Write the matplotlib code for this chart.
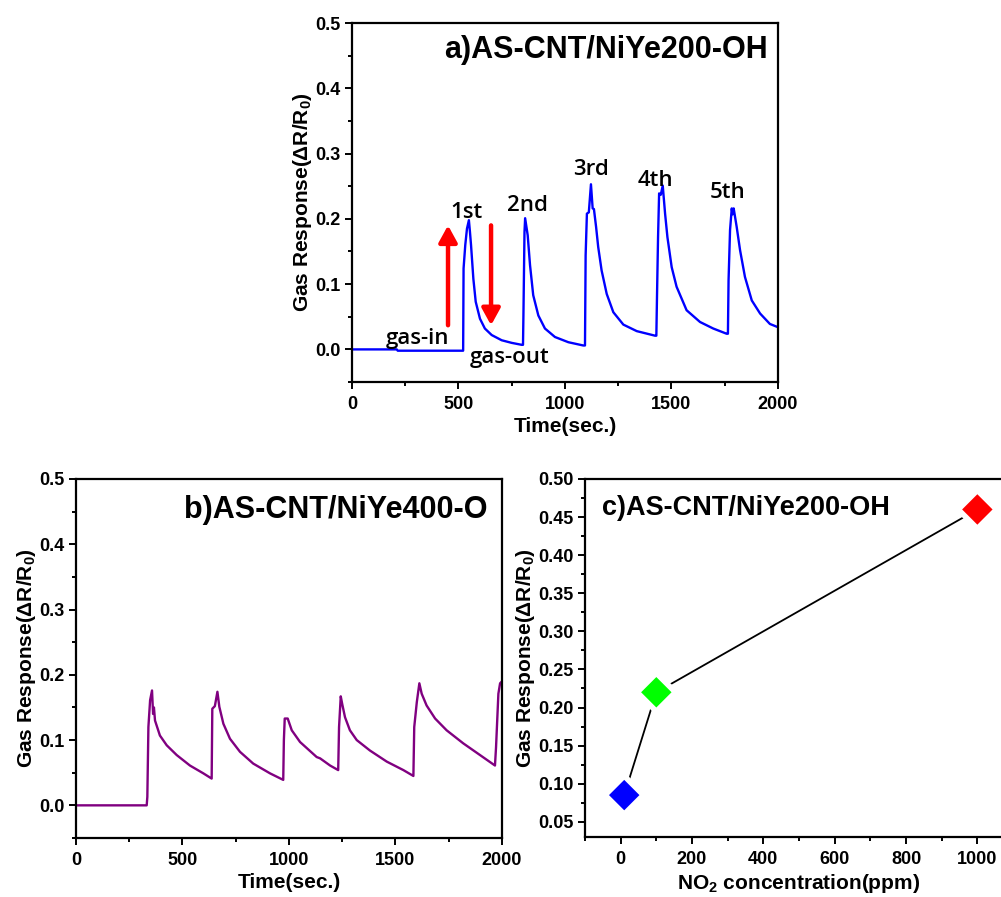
import matplotlib
matplotlib.use("Agg")
import matplotlib.pyplot as plt
from matplotlib.ticker import MultipleLocator

# panel a: AS-CNT/NiYe200-OH, five gas cycles
time_a = [0, 210, 215, 522, 524, 532, 540, 549, 554, 559, 570, 581, 601, 624, 656, 703,
          750, 797, 803, 805, 810, 813, 825, 836, 851, 875, 906, 953, 1016, 1086, 1094,
          1097, 1103, 1112, 1122, 1130, 1136, 1146, 1156, 1172, 1196, 1227, 1274, 1337,
          1423, 1429, 1432, 1437, 1442, 1450, 1459, 1470, 1481, 1501, 1524, 1571, 1634,
          1696, 1759, 1765, 1768, 1775, 1783, 1787, 1792, 1806, 1822, 1845, 1877, 1916,
          1962, 2000]
resp_a = [0.000, 0.000, -0.002, -0.002, 0.124, 0.160, 0.185, 0.198, 0.180, 0.160, 0.108,
          0.073, 0.047, 0.032, 0.022, 0.014, 0.010, 0.007, 0.007, 0.052, 0.180, 0.201,
          0.175, 0.129, 0.083, 0.052, 0.032, 0.019, 0.011, 0.006, 0.006, 0.144, 0.208,
          0.210, 0.253, 0.216, 0.215, 0.188, 0.157, 0.121, 0.085, 0.057, 0.038, 0.028,
          0.021, 0.021, 0.080, 0.172, 0.239, 0.237, 0.251, 0.208, 0.172, 0.126, 0.096,
          0.060, 0.042, 0.032, 0.024, 0.024, 0.106, 0.183, 0.216, 0.207, 0.216, 0.188,
          0.152, 0.111, 0.075, 0.055, 0.039, 0.034]

# panel b: AS-CNT/NiYe400-O
time_b = [0, 332, 335, 340, 348, 357, 362, 366, 371, 394, 426, 473, 535, 598, 637, 640,
          652, 664, 673, 692, 723, 770, 832, 911, 973, 976, 980, 994, 1013, 1052, 1130,
          1146, 1193, 1231, 1235, 1243, 1250, 1263, 1286, 1318, 1380, 1459, 1537, 1584,
          1588, 1600, 1612, 1623, 1646, 1686, 1740, 1818, 1897, 1967, 1972, 1983, 1991,
          2000]
resp_b = [0.000, 0.000, 0.013, 0.120, 0.161, 0.176, 0.140, 0.150, 0.130, 0.107, 0.092,
          0.077, 0.061, 0.049, 0.041, 0.148, 0.152, 0.174, 0.151, 0.125, 0.102, 0.082,
          0.064, 0.049, 0.039, 0.100, 0.133, 0.133, 0.115, 0.097, 0.074, 0.072, 0.061,
          0.054, 0.120, 0.167, 0.155, 0.135, 0.115, 0.100, 0.084, 0.067, 0.054, 0.045,
          0.120, 0.158, 0.187, 0.171, 0.153, 0.133, 0.115, 0.095, 0.077, 0.061, 0.089,
          0.171, 0.187, 0.190]

# panel c: response vs NO2 concentration
conc_c = [10, 100, 1000]
resp_c = [0.085, 0.22, 0.46]
colors_c = ["#0000ff", "#00ff00", "#ff0000"]

cycle_labels = ["1st", "2nd", "3rd", "4th", "5th"]
cycle_label_x = [540, 826, 1122, 1427, 1765]
cycle_label_y = [0.210, 0.221, 0.275, 0.259, 0.241]

plt.rcParams["font.family"] = "Liberation Sans"
plt.rcParams["font.weight"] = "bold"
plt.rcParams["axes.labelweight"] = "bold"
plt.rcParams["mathtext.fontset"] = "custom"
plt.rcParams["mathtext.rm"] = "Liberation Sans:bold"
plt.rcParams["mathtext.it"] = "Liberation Sans:bold"
plt.rcParams["mathtext.bf"] = "Liberation Sans:bold"

ylab = "Gas Response(ΔR/R$_0$)"

fig = plt.figure(figsize=(10.01, 8.97), dpi=100)
ax_a = fig.add_axes([0.3516, 0.5741, 0.4256, 0.4002])
ax_b = fig.add_axes([0.0759, 0.0658, 0.4256, 0.4002])
ax_c = fig.add_axes([0.5844, 0.0669, 0.4276, 0.3991])


def style(ax):
    for s in ax.spines.values():
        s.set_linewidth(1.6)
    ax.tick_params(which="both", direction="out", top=False, right=False,
                   labelsize=13, width=1.4)
    ax.tick_params(axis="x", pad=5)
    ax.tick_params(axis="y", pad=3)
    ax.tick_params(which="major", length=5)
    ax.tick_params(which="minor", length=3)
    for t in ax.get_xticklabels() + ax.get_yticklabels():
        t.set_fontweight("bold")


cal = dict(family="Open Sans", fontweight="semibold", fontsize=16,
           ha="center", va="center")
arrow = dict(arrowstyle="-|>,head_length=1.0,head_width=0.55", color="#ff0000",
             lw=3.2, shrinkA=0, shrinkB=0)

# a
ax_a.plot(time_a, resp_a, color="#0000ff", lw=1.7)
ax_a.set_xlim(0, 2000)
ax_a.set_ylim(-0.05, 0.5)
ax_a.xaxis.set_major_locator(MultipleLocator(500))
ax_a.xaxis.set_minor_locator(MultipleLocator(250))
ax_a.yaxis.set_major_locator(MultipleLocator(0.1))
ax_a.yaxis.set_minor_locator(MultipleLocator(0.05))
ax_a.set_xlabel("Time(sec.)", fontsize=15, labelpad=3)
ax_a.set_ylabel(ylab, fontsize=15, labelpad=1)
ax_a.text(0.975, 0.925, "a)AS-CNT/NiYe200-OH", transform=ax_a.transAxes, ha="right",
          va="center", fontsize=22, fontweight="bold")
for lab, x, y in zip(cycle_labels, cycle_label_x, cycle_label_y):
    ax_a.text(x, y, lab, **cal)
ax_a.text(310, 0.017, "gas-in", **cal)
ax_a.text(742, -0.012, "gas-out", **cal)
ax_a.annotate("", xy=(451, 0.19), xytext=(451, 0.037), arrowprops=arrow)
ax_a.annotate("", xy=(653, 0.037), xytext=(653, 0.19), arrowprops=arrow)
style(ax_a)

# b
ax_b.plot(time_b, resp_b, color="#800080", lw=1.7)
ax_b.set_xlim(0, 2000)
ax_b.set_ylim(-0.05, 0.5)
ax_b.xaxis.set_major_locator(MultipleLocator(500))
ax_b.xaxis.set_minor_locator(MultipleLocator(250))
ax_b.yaxis.set_major_locator(MultipleLocator(0.1))
ax_b.yaxis.set_minor_locator(MultipleLocator(0.05))
ax_b.set_xlabel("Time(sec.)", fontsize=15, labelpad=3)
ax_b.set_ylabel(ylab, fontsize=15, labelpad=1)
ax_b.text(0.965, 0.914, "b)AS-CNT/NiYe400-O", transform=ax_b.transAxes, ha="right",
          va="center", fontsize=22, fontweight="bold")
style(ax_b)

# c
ax_c.plot(conc_c, resp_c, color="black", lw=1.3, zorder=2)
ax_c.scatter(conc_c, resp_c, marker="D", s=19.5 ** 2, c=colors_c, edgecolors="white",
             linewidths=4, zorder=3)
ax_c.set_xlim(-100, 1100)
ax_c.set_ylim(0.03, 0.5)
ax_c.xaxis.set_major_locator(MultipleLocator(200))
ax_c.xaxis.set_minor_locator(MultipleLocator(100))
ax_c.yaxis.set_major_locator(MultipleLocator(0.05))
ax_c.yaxis.set_minor_locator(MultipleLocator(0.025))
ax_c.yaxis.set_major_formatter(plt.FormatStrFormatter("%.2f"))
ax_c.set_xlabel("NO$_2$ concentration(ppm)", fontsize=15, labelpad=3)
ax_c.set_ylabel(ylab, fontsize=15, labelpad=1)
ax_c.text(0.04, 0.92, "c)AS-CNT/NiYe200-OH", transform=ax_c.transAxes, ha="left",
          va="center", fontsize=19.5, fontweight="bold")
style(ax_c)

fig.savefig("out.png", dpi=100)
